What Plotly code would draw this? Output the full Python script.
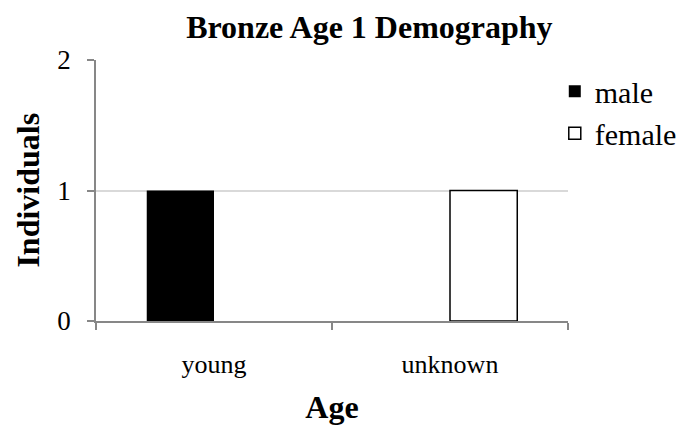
import plotly.graph_objects as go

categories = ["young", "unknown"]
male = [1, 0]
female = [0, 1]
y_ticks = [0, 1, 2]

FONT = "Liberation Serif, Times New Roman, serif"

fig = go.Figure()
fig.add_trace(go.Bar(x=categories, y=[v if v else None for v in male], name="male",
                     marker=dict(color="black", line=dict(color="black", width=0))))
fig.add_trace(go.Bar(x=categories, y=[v if v else None for v in female], name="female",
                     marker=dict(color="white", line=dict(color="black", width=1.5))))

# the page body adds an 8px margin, so the figure is drawn 8px smaller
fig.update_layout(
    width=678, height=428,
    margin=dict(l=88, r=118, t=52, b=115, autoexpand=False),
    paper_bgcolor="white", plot_bgcolor="white",
    font=dict(family=FONT, color="black"),
    title=dict(text="<b>Bronze Age 1 Demography</b>", x=0.533, xanchor="center",
               y=0.955, yanchor="middle", font=dict(size=32, family=FONT)),
    barmode="group", bargap=0.43, bargroupgap=0,
    showlegend=True,
    legend=dict(x=0.972, xanchor="left", y=0.98, yanchor="top",
                font=dict(size=30, family=FONT), itemwidth=30,
                tracegroupgap=0, bgcolor="rgba(0,0,0,0)"),
    xaxis=dict(
        automargin=False,
        showline=True, linecolor="#878787", linewidth=1.5,
        ticks="outside", tickson="boundaries", ticklen=7, tickcolor="#878787", tickwidth=1.5,
        tickfont=dict(size=26, family=FONT), ticklabelstandoff=19,
        title=dict(text="<b>Age</b>", font=dict(size=32, family=FONT), standoff=18),
        showgrid=False, zeroline=False,
    ),
    yaxis=dict(
        automargin=False,
        range=[0, 2], tickvals=y_ticks,
        showline=True, linecolor="#878787", linewidth=1.5,
        ticks="outside", ticklen=7, tickcolor="#878787", tickwidth=1.5,
        tickfont=dict(size=27, family=FONT), ticklabelstandoff=11,
        showgrid=True, gridcolor="#d9d9d9", gridwidth=1.5,
        zeroline=False,
    ),
    annotations=[dict(text="<b>Individuals</b>", textangle=-90,
                      xref="paper", yref="paper", x=-0.146, y=0.5,
                      xanchor="center", yanchor="middle", showarrow=False,
                      font=dict(size=32, family=FONT, color="black"))],
)

fig.write_html("out.html")
